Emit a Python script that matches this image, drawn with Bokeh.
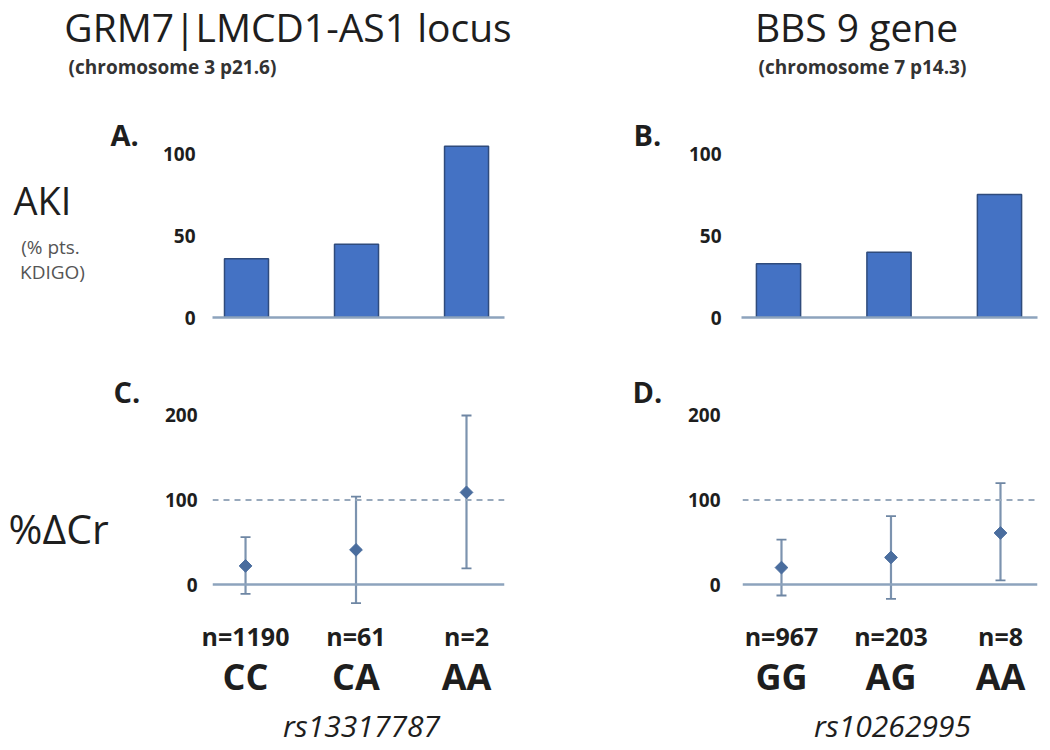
import math
from bokeh.plotting import figure
from bokeh.models import (Range1d, FixedTicker, LinearAxis, Span, Whisker, TeeHead,
                          ColumnDataSource, Label, LabelSet)
from bokeh.layouts import column, row
from bokeh.embed import file_html
from bokeh.resources import INLINE
from bokeh.core.properties import value

# ---------------- data ----------------
positions = [0, 1, 2]
genotypes_left = ["CC", "CA", "AA"]
genotypes_right = ["GG", "AG", "AA"]
n_left = ["n=1190", "n=61", "n=2"]
n_right = ["n=967", "n=203", "n=8"]
aki_left = [36, 45, 105]
aki_right = [33, 40, 75.5]
cr_left_mean = [22, 41, 109]
cr_left_low = [-11, -22, 19]
cr_left_high = [56, 104, 200]
cr_right_mean = [20, 32, 61]
cr_right_low = [-13, -17, 5]
cr_right_high = [53, 81, 120]
aki_ticks = [0, 50, 100]
cr_ticks = [0, 100, 200]
threshold = 100
snp_left = "rs13317787"
snp_right = "rs10262995"
title_left = "GRM7|LMCD1-AS1 locus"
title_right = "BBS 9 gene"
sub_left = "(chromosome 3 p21.6)"
sub_right = "(chromosome 7 p14.3)"

FONT = "Open Sans"
BAR_FILL = "#4472C4"
BAR_LINE = "#2F4B7C"
AXIS_COL = "#8DA3BD"
ERR_COL = "#7C93AF"
PT_COL = "#4A6D9E"
TXT = "#1e1e1e"


def base_fig(w, h, bl=0, br=0, bt=0, bb=0, xr=(0, 1), yr=(0, 1)):
    p = figure(width=w, height=h, min_border_left=bl, min_border_right=br,
               min_border_top=bt, min_border_bottom=bb,
               x_range=Range1d(*xr), y_range=Range1d(*yr),
               output_backend="svg", toolbar_location=None,
               x_axis_type=None, y_axis_type=None)
    p.frame_align = False
    p.outline_line_color = None
    p.background_fill_color = "white"
    p.border_fill_color = "white"
    return p


def add_yaxis(p, ticks, standoff):
    ax = LinearAxis(ticker=FixedTicker(ticks=ticks), axis_line_color=None,
                    major_tick_line_color=None, minor_tick_line_color=None,
                    major_tick_out=0, major_tick_in=0, major_label_standoff=standoff,
                    major_label_text_font=FONT, major_label_text_font_style="bold",
                    major_label_text_font_size="19px", major_label_text_color=TXT)
    p.add_layout(ax, "left")


def add_label(p, x, y, text, size, style="normal", align="left", color=TXT):
    # y is the vertical centre of the text, in px above the frame bottom
    p.add_layout(Label(x=x, y=y, x_units="screen", y_units="screen", text=text,
                       text_font=FONT, text_font_size=size, text_font_style=style,
                       text_align=align, text_baseline="middle", text_color=color))


def bar_panel(w, bl, br, xr, vals, standoff):
    p = base_fig(w, 240, bl, br, 28, 33, xr, (0, 109.8))
    add_yaxis(p, aki_ticks, standoff)
    xa = LinearAxis(ticker=FixedTicker(ticks=[]), axis_line_color=AXIS_COL, axis_line_width=2.5,
                    major_tick_line_color=None, minor_tick_line_color=None)
    p.add_layout(xa, "below")
    src = ColumnDataSource(dict(x=positions, top=vals))
    p.vbar(x="x", top="top", bottom=0, width=0.4, source=src,
           fill_color=BAR_FILL, line_color=BAR_LINE, line_width=1.5)
    return p


def err_panel(w, bl, br, xr, means, lows, highs, standoff):
    p = base_fig(w, 265, bl, br, 50, 7, xr, (-28.4, 217.75))
    add_yaxis(p, cr_ticks, standoff)
    p.add_layout(Span(location=0, dimension="width", line_color=AXIS_COL, line_width=2.5))
    p.add_layout(Span(location=threshold, dimension="width", line_color="#98A9BC",
                      line_width=2, line_dash="6 5"))
    src = ColumnDataSource(dict(x=positions, mean=means, lower=lows, upper=highs))
    p.add_layout(Whisker(source=src, base="x", lower="lower", upper="upper", dimension="height",
                         line_color=ERR_COL, line_width=2.2,
                         upper_head=TeeHead(size=10, line_color="#6E86A3", line_width=1.8),
                         lower_head=TeeHead(size=10, line_color="#6E86A3", line_width=1.8)))
    p.scatter("x", "mean", source=src, marker="square", angle=math.pi / 4, size=9,
              fill_color=PT_COL, line_color=PT_COL)
    return p


def bottom_panel(w, xr, genos, ns, snp, snp_x):
    p = base_fig(w, 133, xr=xr)
    src = ColumnDataSource(dict(x=positions, n=ns, g=genos))
    p.add_layout(LabelSet(x="x", y=102.5, y_units="screen", text="n", source=src,
                          text_font=value(FONT), text_font_style="bold", text_font_size="25px",
                          text_align="center", text_baseline="alphabetic", text_color=TXT))
    p.add_layout(LabelSet(x="x", y=59, y_units="screen", text="g", source=src,
                          text_font=value(FONT), text_font_style="bold", text_font_size="36px",
                          text_align="center", text_baseline="alphabetic", text_color=TXT))
    add_label(p, snp_x, 23, snp, "30px", style="italic", align="center")
    return p


# header (y 0-110)
ph = base_fig(1048, 110)
add_label(ph, 287.5, 84, title_left, "39px", align="center")
add_label(ph, 172, 44, sub_left, "19px", style="bold", align="center", color="#333333")
add_label(ph, 856, 84, title_right, "39px", align="center")
add_label(ph, 862, 44, sub_right, "19px", style="bold", align="center", color="#333333")

# row of bar charts (y 110-350)
ta = base_fig(150, 240)
add_label(ta, 110, 216.5, "A.", "29px", style="bold")
add_label(ta, 13, 150.5, "AKI", "38px")
add_label(ta, 50, 104, "(% pts.", "19px", align="center", color="#555555")
add_label(ta, 52, 79, "KDIGO)", "19px", align="center", color="#555555")
pa = bar_panel(375, 62, 21, (-0.309, 2.345), aki_left, 17)
tb = base_fig(155, 240)
add_label(tb, 108, 216, "B.", "29px", style="bold")
pb = bar_panel(368, 61, 11, (-0.335, 2.344), aki_right, 20)

# row of error-bar charts (y 350-615)
tc = base_fig(150, 265)
add_label(tc, 113, 224, "C.", "29px", style="bold")
add_label(tc, 8, 88, "%ΔCr", "41px")
pc = err_panel(375, 62, 21, (-0.299, 2.344), cr_left_mean, cr_left_low, cr_left_high, 15)
td = base_fig(155, 265)
add_label(td, 107, 224, "D.", "29px", style="bold")
pd = err_panel(368, 62, 11, (-0.356, 2.338), cr_right_mean, cr_right_low, cr_right_high, 22)

# genotype / n labels (y 615-748), same x scale as the panels above
bl = bottom_panel(525, (-245 / 110.5, 280 / 110.5), genotypes_left, n_left, snp_left, 361)
br = bottom_panel(523, (-256 / 109.5, 267 / 109.5), genotypes_right, n_right, snp_right, 367)

layout = column(ph,
                row(ta, pa, tb, pb, spacing=0),
                row(tc, pc, td, pd, spacing=0),
                row(bl, br, spacing=0), spacing=0)
open("out.html", "w").write(file_html(layout, INLINE))
